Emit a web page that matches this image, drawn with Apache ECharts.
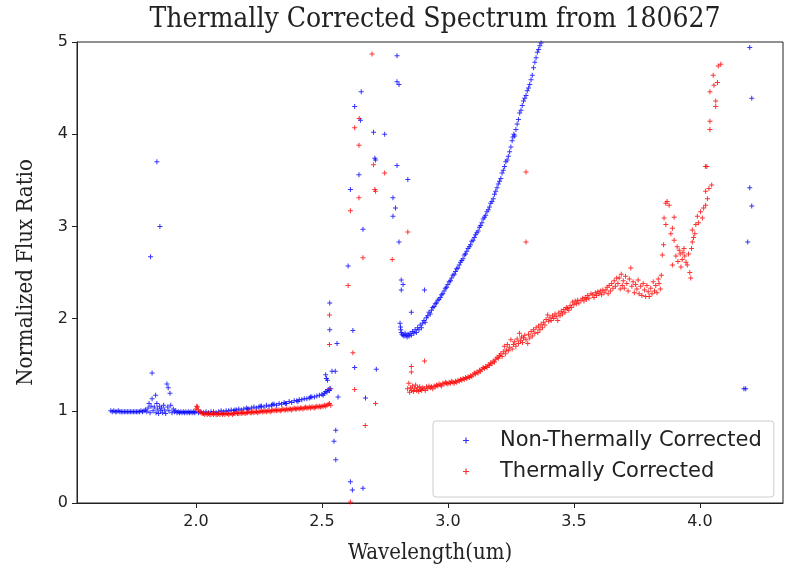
<!DOCTYPE html>
<html>
<head>
<meta charset="utf-8">
<title>Thermally Corrected Spectrum from 180627</title>
<script src="https://cdn.jsdelivr.net/npm/echarts@6/dist/echarts.min.js"></script>
<style>
  html, body { margin: 0; padding: 0; background: #fff; }
  #chart { width: 787px; height: 570px; }
</style>
</head>
<body>
<div id="chart"></div>
<script>
// tick labels
var xTicks = [2.0, 2.5, 3.0, 3.5, 4.0]
var yTicks = [0, 1, 2, 3, 4, 5]

// Non-Thermally Corrected, [wavelength, ratio]
var blueStart = [
  [1.662,1.00],[1.668,0.99],[1.674,1.00],[1.680,0.99],[1.686,0.99],[1.692,1.00],[1.698,0.99],[1.704,0.99],
  [1.710,0.99],[1.716,0.99],[1.722,0.99],[1.728,0.99],[1.734,0.99],[1.740,0.99],[1.746,0.99],[1.752,0.99],
  [1.758,0.99],[1.764,0.99],[1.770,0.99],[1.776,0.99],[1.782,1.00],[1.788,0.99],[1.794,1.00],[1.800,1.01],
  [1.805,0.99],[1.810,1.03],[1.814,1.08],[1.818,0.98],[1.822,1.05],[1.826,1.13],[1.830,1.00],[1.835,1.04],
  [1.840,1.17],[1.842,0.98],[1.845,1.08],[1.848,1.02],[1.852,0.97],[1.856,1.05],[1.860,1.00],[1.864,1.03],
  [1.868,0.98],[1.872,1.06],[1.876,1.01],[1.880,0.97],[1.888,1.04],[1.893,1.00],[1.900,1.06],[1.905,0.98],
  [1.910,1.02],[1.915,0.99],[1.920,1.00],[1.925,0.98],[1.930,0.99],[1.935,0.98],[1.940,0.99],[1.945,0.98],
  [1.950,0.99],[1.955,0.98],[1.960,0.99],[1.965,0.98],[1.970,0.99],[1.975,0.98],[1.980,0.99],[1.985,0.98],
  [1.990,0.99],[1.995,0.98]
]
var blueSpikes = [
  [1.820,2.67],[1.857,3.00],[1.845,3.70],[1.826,1.41],[1.885,1.29],[1.890,1.25],[1.897,1.19]
]
var blueBand = [
  [2.00,0.99],[2.01,0.98],[2.02,0.99],[2.03,0.98],[2.04,0.99],[2.05,0.98],[2.06,0.99],[2.07,0.99],
  [2.08,0.98],[2.09,0.99],[2.10,1.00],[2.11,0.99],[2.12,1.00],[2.13,1.00],[2.14,1.01],[2.15,1.00],
  [2.155,1.01],[2.16,1.01],[2.17,1.02],[2.18,1.01],[2.19,1.02],[2.20,1.03],[2.205,1.02],[2.21,1.02],
  [2.22,1.03],[2.23,1.04],[2.24,1.03],[2.25,1.04],[2.255,1.05],[2.26,1.05],[2.27,1.04],[2.28,1.06],
  [2.29,1.05],[2.30,1.06],[2.305,1.07],[2.31,1.07],[2.32,1.06],[2.33,1.08],[2.34,1.07],[2.35,1.09],
  [2.355,1.08],[2.36,1.08],[2.37,1.10],[2.38,1.09],[2.39,1.11],[2.40,1.11],[2.405,1.10],[2.41,1.12],
  [2.42,1.12],[2.43,1.13],[2.44,1.13],[2.45,1.14],[2.455,1.15],[2.46,1.15],[2.47,1.15],[2.48,1.16],
  [2.49,1.17],[2.50,1.18],[2.505,1.17],[2.51,1.19],[2.515,1.21],[2.52,1.20],[2.525,1.23],[2.53,1.22],
  [2.535,1.24]
]
var blueGap = [
  [2.515,1.39],[2.518,1.35],[2.522,1.33],[2.540,1.43],[2.553,1.43],[2.564,1.15],[2.531,2.17],[2.531,1.88],
  [2.560,1.73],[2.555,0.79],[2.548,0.67],[2.555,0.47],[2.613,0.23],[2.621,0.14],[2.663,0.16],[2.604,2.57],
  [2.613,3.40],[2.623,1.87],[2.630,1.47],[2.673,1.14],[2.716,1.45],[2.663,2.97],[2.647,3.56],[2.630,4.30],
  [2.656,4.46],[2.653,4.15],[2.705,4.02],[2.749,4.00],[2.710,3.74],[2.713,3.72],[2.798,3.66],[2.841,3.51],
  [2.782,3.31],[2.792,3.20],[2.782,3.11],[2.806,2.83],[2.798,4.85],[2.798,4.57],[2.806,4.54],[2.815,2.42],
  [2.822,2.37],[2.815,2.31],[2.907,2.31],[2.855,2.07]
]
var blueCurve = [
  [2.810,1.95],[2.812,1.91],[2.813,1.88],[2.815,1.85],[2.818,1.83],[2.822,1.82],[2.826,1.81],[2.830,1.84],
  [2.834,1.82],[2.838,1.80],[2.842,1.83],[2.846,1.81],[2.850,1.84],[2.855,1.82],[2.860,1.86],[2.865,1.84],
  [2.870,1.88],[2.875,1.85],[2.880,1.90],[2.885,1.88],[2.890,1.93],[2.895,1.90],[2.900,1.95],[2.905,1.98],
  [2.910,1.96],[2.915,2.01],[2.920,2.03],[2.925,2.07],[2.930,2.05],[2.935,2.09],[2.940,2.12],[2.945,2.13],
  [2.950,2.16],[2.955,2.17],[2.960,2.20],[2.965,2.21],[2.970,2.23],[2.975,2.26],[2.980,2.27],[2.985,2.30],
  [2.990,2.33],[2.995,2.34],[3.000,2.37],[3.005,2.40],[3.010,2.41],[3.015,2.44],[3.020,2.47],[3.025,2.48],
  [3.030,2.51],[3.035,2.54],[3.040,2.55],[3.045,2.58],[3.050,2.61],[3.055,2.63],[3.060,2.65],[3.065,2.69],
  [3.070,2.70],[3.075,2.73],[3.080,2.76],[3.085,2.78],[3.090,2.80],[3.095,2.84],[3.100,2.85],[3.105,2.88],
  [3.110,2.91],[3.115,2.93],[3.120,2.95],[3.125,2.99],[3.130,3.01],[3.135,3.04],[3.140,3.08],[3.145,3.10],
  [3.150,3.12],[3.155,3.16],[3.160,3.18],[3.165,3.21],[3.170,3.25],[3.175,3.27],[3.180,3.30],[3.185,3.35],
  [3.190,3.38],[3.195,3.42],[3.200,3.46],[3.205,3.49],[3.210,3.52],[3.215,3.58],[3.220,3.61],[3.225,3.65],
  [3.230,3.70],[3.235,3.72],[3.240,3.76],[3.245,3.81],[3.250,3.86],[3.255,3.93],[3.258,3.97],[3.262,4.00],
  [3.265,3.98],[3.270,4.05],[3.275,4.11],[3.280,4.16],[3.285,4.23],[3.290,4.26],[3.295,4.31],[3.300,4.36],
  [3.305,4.39],[3.310,4.42],[3.315,4.47],[3.320,4.50],[3.325,4.54],[3.330,4.59],[3.335,4.64],[3.340,4.72],
  [3.345,4.78],[3.350,4.83],[3.355,4.89],[3.360,4.92],[3.365,4.96],[3.370,4.99]
]
var blueRight = [
  [4.198,4.94],[4.206,4.39],[4.198,3.42],[4.206,3.22],[4.190,2.83],[4.175,1.24],[4.182,1.24]
]

// Thermally Corrected
var redBand = [
  [2.000,1.02],[2.003,1.05],[2.006,1.04],[2.010,1.01],[2.015,0.99],[2.020,0.98],[2.025,0.97],[2.030,0.97],
  [2.035,0.96],[2.040,0.97],[2.045,0.96],[2.050,0.97],[2.055,0.96],[2.060,0.96],[2.065,0.97],[2.070,0.96],
  [2.075,0.97],[2.080,0.96],[2.085,0.96],[2.090,0.97],[2.095,0.96],[2.100,0.97],[2.105,0.96],[2.110,0.97],
  [2.115,0.96],[2.120,0.97],[2.125,0.97],[2.130,0.96],[2.135,0.97],[2.140,0.97],[2.145,0.96],[2.150,0.97],
  [2.155,0.97],[2.160,0.98],[2.165,0.97],[2.170,0.97],[2.175,0.98],[2.180,0.97],[2.185,0.98],[2.190,0.98],
  [2.195,0.97],[2.200,0.98],[2.205,0.98],[2.210,0.99],[2.215,0.98],[2.220,0.98],[2.225,0.99],[2.230,0.98],
  [2.235,0.99],[2.240,0.99],[2.245,0.98],[2.250,0.99],[2.255,0.99],[2.260,1.00],[2.265,0.99],[2.270,0.99],
  [2.275,1.00],[2.280,0.99],[2.285,1.00],[2.290,1.00],[2.295,0.99],[2.300,1.00],[2.305,1.01],[2.310,1.00],
  [2.315,1.01],[2.320,1.00],[2.325,1.01],[2.330,1.01],[2.335,1.00],[2.340,1.01],[2.345,1.02],[2.350,1.01],
  [2.355,1.01],[2.360,1.02],[2.365,1.01],[2.370,1.02],[2.375,1.02],[2.380,1.01],[2.385,1.02],[2.390,1.03],
  [2.395,1.02],[2.400,1.02],[2.405,1.03],[2.410,1.02],[2.415,1.03],[2.420,1.03],[2.425,1.02],[2.430,1.03],
  [2.435,1.04],[2.440,1.03],[2.445,1.03],[2.450,1.04],[2.455,1.03],[2.460,1.04],[2.465,1.04],[2.470,1.03],
  [2.475,1.04],[2.480,1.05],[2.485,1.04],[2.490,1.05],[2.495,1.04],[2.500,1.05],[2.505,1.05],[2.510,1.06],
  [2.515,1.05],[2.520,1.06],[2.525,1.07],[2.530,1.08],[2.535,1.06]
]
var redGap = [
  [2.530,2.04],[2.530,1.72],[2.530,1.24],[2.604,2.36],[2.613,3.17],[2.613,0.01],[2.623,1.63],[2.630,1.23],
  [2.630,4.07],[2.648,4.17],[2.647,3.88],[2.647,3.31],[2.663,2.66],[2.672,0.84],[2.699,4.87],[2.705,3.67],
  [2.710,3.40],[2.713,3.38],[2.713,1.08],[2.749,3.58],[2.779,2.64],[2.841,2.94],[2.855,1.48],[2.855,1.42],
  [2.907,1.54],[3.310,3.59],[3.310,2.83]
]
var redCurve = [
  [2.840,1.24],[2.845,1.30],[2.848,1.20],[2.852,1.25],[2.856,1.22],[2.860,1.27],[2.864,1.21],[2.868,1.24],
  [2.872,1.28],[2.876,1.22],[2.880,1.25],[2.884,1.21],[2.888,1.26],[2.892,1.23],[2.896,1.22],[2.900,1.25],
  [2.905,1.24],[2.910,1.22],[2.915,1.26],[2.920,1.24],[2.925,1.27],[2.930,1.25],[2.935,1.26],[2.940,1.24],
  [2.945,1.27],[2.950,1.26],[2.955,1.28],[2.960,1.27],[2.965,1.29],[2.970,1.28],[2.975,1.27],[2.980,1.30],
  [2.985,1.29],[2.990,1.31],[2.995,1.30],[3.000,1.29],[3.005,1.31],[3.010,1.30],[3.015,1.32],[3.020,1.31],
  [3.025,1.30],[3.030,1.32],[3.035,1.31],[3.040,1.33],[3.045,1.32],[3.050,1.34],[3.055,1.33],[3.060,1.35],
  [3.065,1.34],[3.070,1.36],[3.075,1.35],[3.080,1.37],[3.085,1.36],[3.090,1.38],[3.095,1.37],[3.100,1.39],
  [3.105,1.41],[3.110,1.40],[3.115,1.42],[3.120,1.41],[3.125,1.44],[3.130,1.43],[3.135,1.45],[3.140,1.47],
  [3.145,1.46],[3.150,1.48],[3.155,1.47],[3.160,1.50],[3.165,1.49],[3.170,1.52],[3.175,1.51],[3.180,1.54],
  [3.185,1.53],[3.190,1.56],[3.195,1.58],[3.200,1.57],[3.205,1.60],[3.210,1.62],[3.215,1.59],[3.220,1.64],
  [3.224,1.70],[3.228,1.62],[3.232,1.66],[3.236,1.72],[3.240,1.65],[3.245,1.69],[3.250,1.77],[3.255,1.67],
  [3.260,1.72],[3.265,1.75],[3.270,1.70],[3.275,1.78],[3.280,1.73],[3.284,1.84],[3.288,1.76],[3.292,1.80],
  [3.296,1.74],[3.300,1.79],[3.305,1.82],[3.310,1.77],[3.317,1.73],[3.320,1.83],[3.325,1.79],[3.330,1.86],
  [3.335,1.81],[3.340,1.88],[3.345,1.84],[3.350,1.90],[3.357,1.85],[3.360,1.92],[3.365,1.88],[3.370,1.94],
  [3.375,1.90],[3.380,1.96],[3.385,1.93],[3.390,1.99],[3.396,2.04],[3.400,1.97],[3.405,2.01],[3.410,1.98],
  [3.415,2.03],[3.420,2.00],[3.425,2.05],[3.430,2.02],[3.436,1.98],[3.440,2.06],[3.445,2.03],[3.450,2.08],
  [3.455,2.05],[3.460,2.10],[3.465,2.07],[3.470,2.12],[3.475,2.11],[3.480,2.09],[3.485,2.14],[3.490,2.12],
  [3.495,2.18],[3.500,2.15],[3.505,2.19],[3.510,2.16],[3.515,2.20],[3.520,2.17],[3.528,2.20],[3.535,2.22],
  [3.540,2.19],[3.545,2.23],[3.550,2.21],[3.555,2.25],[3.560,2.22],[3.568,2.27],[3.575,2.26],[3.580,2.23],
  [3.585,2.28],[3.590,2.25],[3.595,2.29],[3.600,2.27],[3.605,2.30],[3.610,2.26],[3.615,2.31],[3.620,2.28],
  [3.627,2.31],[3.632,2.34],[3.636,2.27],[3.640,2.36],[3.645,2.30],[3.650,2.38],[3.655,2.33],[3.660,2.41],
  [3.665,2.35],[3.670,2.44],[3.675,2.38],[3.680,2.44],[3.684,2.32],[3.688,2.48],[3.692,2.36],[3.696,2.41],
  [3.700,2.33],[3.705,2.46],[3.710,2.38],[3.715,2.30],[3.720,2.43],[3.726,2.55],[3.730,2.35],[3.735,2.40],
  [3.740,2.28],[3.745,2.37],[3.750,2.32],[3.755,2.42],[3.759,2.27],[3.765,2.35],[3.770,2.25],[3.775,2.38],
  [3.780,2.31],[3.785,2.24],[3.790,2.36],[3.795,2.29],[3.799,2.24],[3.805,2.33],[3.810,2.27],[3.815,2.40],
  [3.820,2.30],[3.825,2.36],[3.830,2.28],[3.835,2.43],[3.838,2.38],[3.843,2.32],[3.847,2.47]
]
var redTail = [
  [3.851,2.69],[3.856,2.80],[3.858,3.09],[3.865,3.02],[3.865,3.25],[3.870,3.27],[3.878,3.23],[3.885,2.92],
  [3.891,2.98],[3.891,2.58],[3.898,3.10],[3.898,2.85],[3.905,2.68],[3.910,2.78],[3.913,2.62],[3.918,2.74],
  [3.922,2.70],[3.925,2.56],[3.930,2.64],[3.933,2.72],[3.937,2.76],[3.940,2.68],[3.945,2.61],[3.950,2.58],
  [3.955,2.70],[3.960,2.50],[3.964,2.44],[3.967,2.76],[3.970,2.83],[3.970,2.96],[3.975,2.88],[3.980,2.92],
  [3.984,3.02],[3.990,3.11],[3.995,3.04],[4.003,3.16],[4.010,3.09],[4.015,3.20],[4.023,3.23],[4.023,3.38],
  [4.030,3.30],[4.036,3.41],[4.047,3.45],[4.022,3.65],[4.028,3.65],[4.040,4.05],[4.040,4.14],[4.040,4.46],
  [4.053,4.64],[4.056,4.53],[4.063,4.30],[4.063,4.36],[4.070,4.56],[4.073,4.74],[4.083,4.76]
]

var blueData = [].concat(blueStart, blueSpikes, blueBand, blueGap, blueCurve, blueRight)
var redData = [].concat(redBand, redGap, redCurve, redTail)

// matplotlib '+' marker
var plus = 'path://M2,0H3V2H5V3H3V5H2V3H0V2H2Z'
var serif = "'DejaVu Serif Condensed', 'DejaVu Serif', serif"
var sans = "'DejaVu Sans', sans-serif"

var chart = echarts.init(document.getElementById('chart'))
chart.setOption({
  animation: false,
  title: {
    text: 'Thermally Corrected Spectrum from 180627',
    left: 430,
    top: 1,
    textAlign: 'center',
    textStyle: { fontFamily: serif, fontSize: 28, fontWeight: 'normal', color: '#222' }
  },
  grid: {
    left: 77,
    right: 4,
    top: 42,
    bottom: 67,
    show: true,
    borderColor: '#222',
    borderWidth: 1
  },
  legend: {
    orient: 'vertical',
    left: 433,
    top: 421,
    padding: [9, 12, 15, 30],
    itemGap: 10,
    itemWidth: 58,
    itemHeight: 6,
    backgroundColor: '#fff',
    borderColor: '#ccc',
    borderWidth: 1,
    borderRadius: 3,
    textStyle: { fontFamily: sans, fontSize: 21, color: '#222' },
    data: ['Non-Thermally Corrected', 'Thermally Corrected']
  },
  xAxis: {
    type: 'value',
    min: 1.528,
    max: 4.33,
    name: 'Wavelength(um)',
    nameLocation: 'middle',
    nameGap: 39,
    nameTextStyle: { fontFamily: serif, fontSize: 22, color: '#222' },
    axisLine: { lineStyle: { color: '#222' } },
    axisTick: { length: 5, customValues: xTicks, lineStyle: { color: '#222' } },
    axisLabel: {
      customValues: xTicks,
      margin: 11,
      fontFamily: sans,
      fontSize: 16,
      color: '#222',
      formatter: function (v) { return v.toFixed(1) }
    },
    splitLine: { show: false }
  },
  yAxis: {
    type: 'value',
    min: 0,
    max: 5,
    interval: 1,
    name: 'Normalized Flux Ratio',
    nameLocation: 'middle',
    nameGap: 40,
    nameTextStyle: { fontFamily: serif, fontSize: 22, color: '#222' },
    axisLine: { show: true, lineStyle: { color: '#222' } },
    axisTick: { show: true, length: 5, lineStyle: { color: '#222' } },
    axisLabel: { margin: 9, fontFamily: sans, fontSize: 16, color: '#222' },
    splitLine: { show: false }
  },
  series: [
    {
      name: 'Non-Thermally Corrected',
      type: 'scatter',
      symbol: plus,
      symbolSize: 5,
      symbolKeepAspect: true,
      itemStyle: { color: '#0000ff' },
      data: blueData
    },
    {
      name: 'Thermally Corrected',
      type: 'scatter',
      symbol: plus,
      symbolSize: 5,
      symbolKeepAspect: true,
      itemStyle: { color: '#ff0000' },
      data: redData
    }
  ]
})
</script>
</body>
</html>
